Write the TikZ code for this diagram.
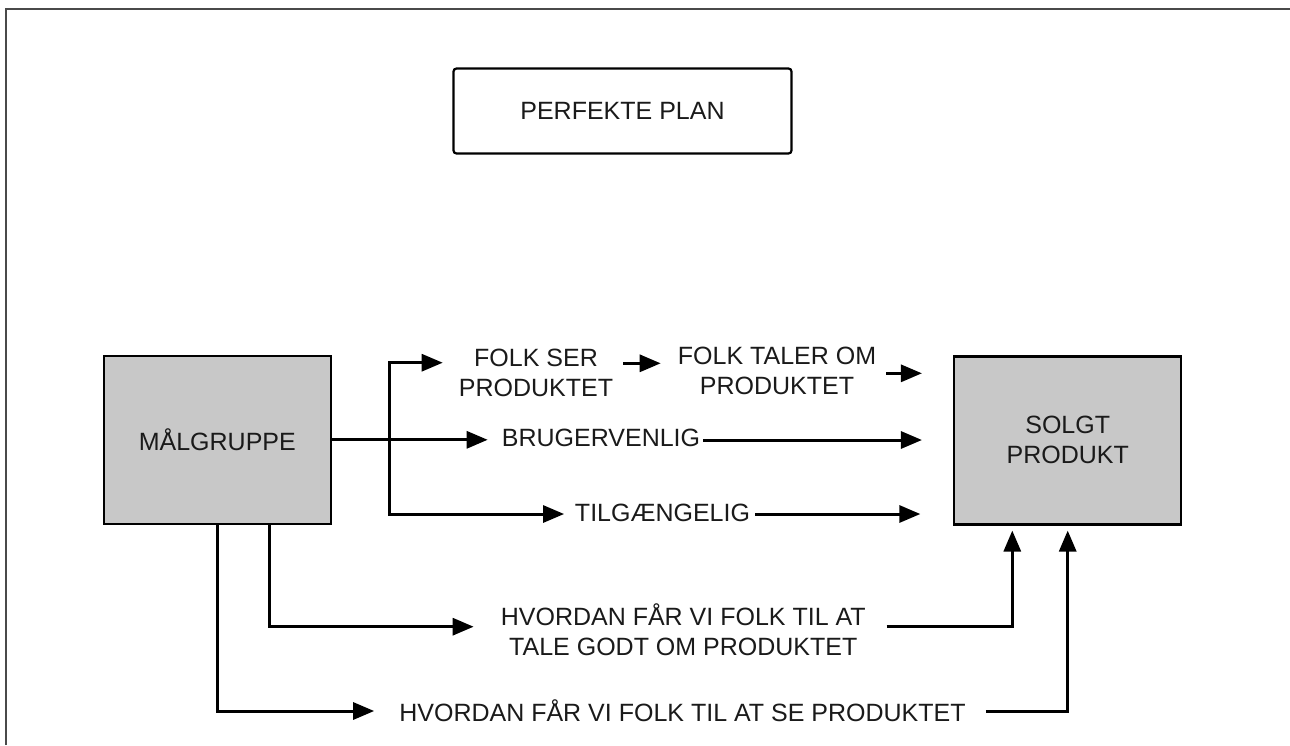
\documentclass[tikz,border=0pt]{standalone}
\usepackage{fontspec}
\setmainfont{Liberation Sans}
\usetikzlibrary{arrows.meta,calc}

\definecolor{boxgray}{HTML}{C8C8C8}
\definecolor{framegray}{HTML}{4A4A4A}
\definecolor{ink}{HTML}{1A1A1A}

\tikzset{
  lbl/.style={inner sep=0pt, align=center, text=ink,
    font=\fontsize{25}{30}\selectfont},
  graybox/.style={lbl, draw=black, line width=2.5pt, fill=boxgray,
    minimum width=227pt, minimum height=168pt},
  titlebox/.style={lbl, draw=black, line width=2.2pt, rounded corners=3pt,
    minimum width=338pt, minimum height=85pt},
  arr/.style={draw=black, line width=3pt,
    -{Triangle[length=21pt, width=17pt]}},
  conn/.style={draw=black, line width=3pt}
}

\begin{document}
\begin{tikzpicture}[x=1pt, y=-1pt]
  \useasboundingbox (0,0) rectangle (1290,745);

  % page frame (top and left edges)
  \draw[framegray, line width=2pt] (6,745) -- (6,9) -- (1290,9);

  % main boxes
  \node[titlebox] (perf) at (622.5,111) {PERFEKTE PLAN};
  \node[graybox] (mal) at (217.3,439.8) {MÅLGRUPPE};
  \node[graybox] (solgt) at (1067.7,440.3) {SOLGT\\PRODUKT};

  % step labels
  \node[lbl] (folkser) at (536,373.3) {FOLK SER\\PRODUKTET};
  \node[lbl] (folktaler) at (777,371) {FOLK TALER OM\\PRODUKTET};
  \node[lbl] (bru) at (601,438) {BRUGERVENLIG};
  \node[lbl] (tilg) at (662.5,512.5) {TILGÆNGELIG};
  \node[lbl] (hv1) at (683.3,630) {HVORDAN FÅR VI FOLK TIL AT\\TALE GODT OM PRODUKTET};
  \node[lbl] (hv2) at (682.5,711) {HVORDAN FÅR VI FOLK TIL AT SE PRODUKTET};

  % branch points of the middle fork
  \coordinate (bt) at (389.3,362.7);
  \coordinate (bb) at (389.3,514);

  % fork from the target group
  \draw[arr, shorten >=14pt] (mal.east) -- (mal.east -| bru.west);
  \draw[arr, shorten >=16pt] (bb) -- (bt) -- (bt -| folkser.west);
  \draw[arr, shorten >=10.7pt] (bt) -- (bb) -- (bb -| tilg.west);

  % chain towards the sold product
  \draw[arr, shorten <=10pt, shorten >=17pt]
    ($(folkser.east)+(0,-10)$) -- ($(folktaler.west)+(0,-7.7)$);
  \draw[arr, shorten <=10pt, shorten >=31pt]
    ($(folktaler.east)+(0,2.3)$) coordinate (ft) -- (ft -| solgt.west);
  \draw[arr, shorten <=3pt, shorten >=31pt]
    ($(bru.east)+(0,2)$) coordinate (br) -- (br -| solgt.west);
  \draw[arr, shorten <=5pt, shorten >=32.6pt]
    ($(tilg.east)+(0,1.5)$) coordinate (tg) -- (tg -| solgt.west);

  % lower routes
  \draw[arr, shorten >=27pt] ([xshift=52pt]mal.south) |- ($(hv1.west)+(0,-3.3)$);
  \draw[arr, shorten >=25pt] (mal.south) |- (hv2.west);
  \draw[arr, shorten <=20.6pt, shorten >=5pt]
    ($(hv1.east)+(0,-3.3)$) -| ([xshift=-55.4pt]solgt.south);
  \draw[arr, shorten <=20pt, shorten >=5pt] (hv2.east) -| (solgt.south);
\end{tikzpicture}
\end{document}
